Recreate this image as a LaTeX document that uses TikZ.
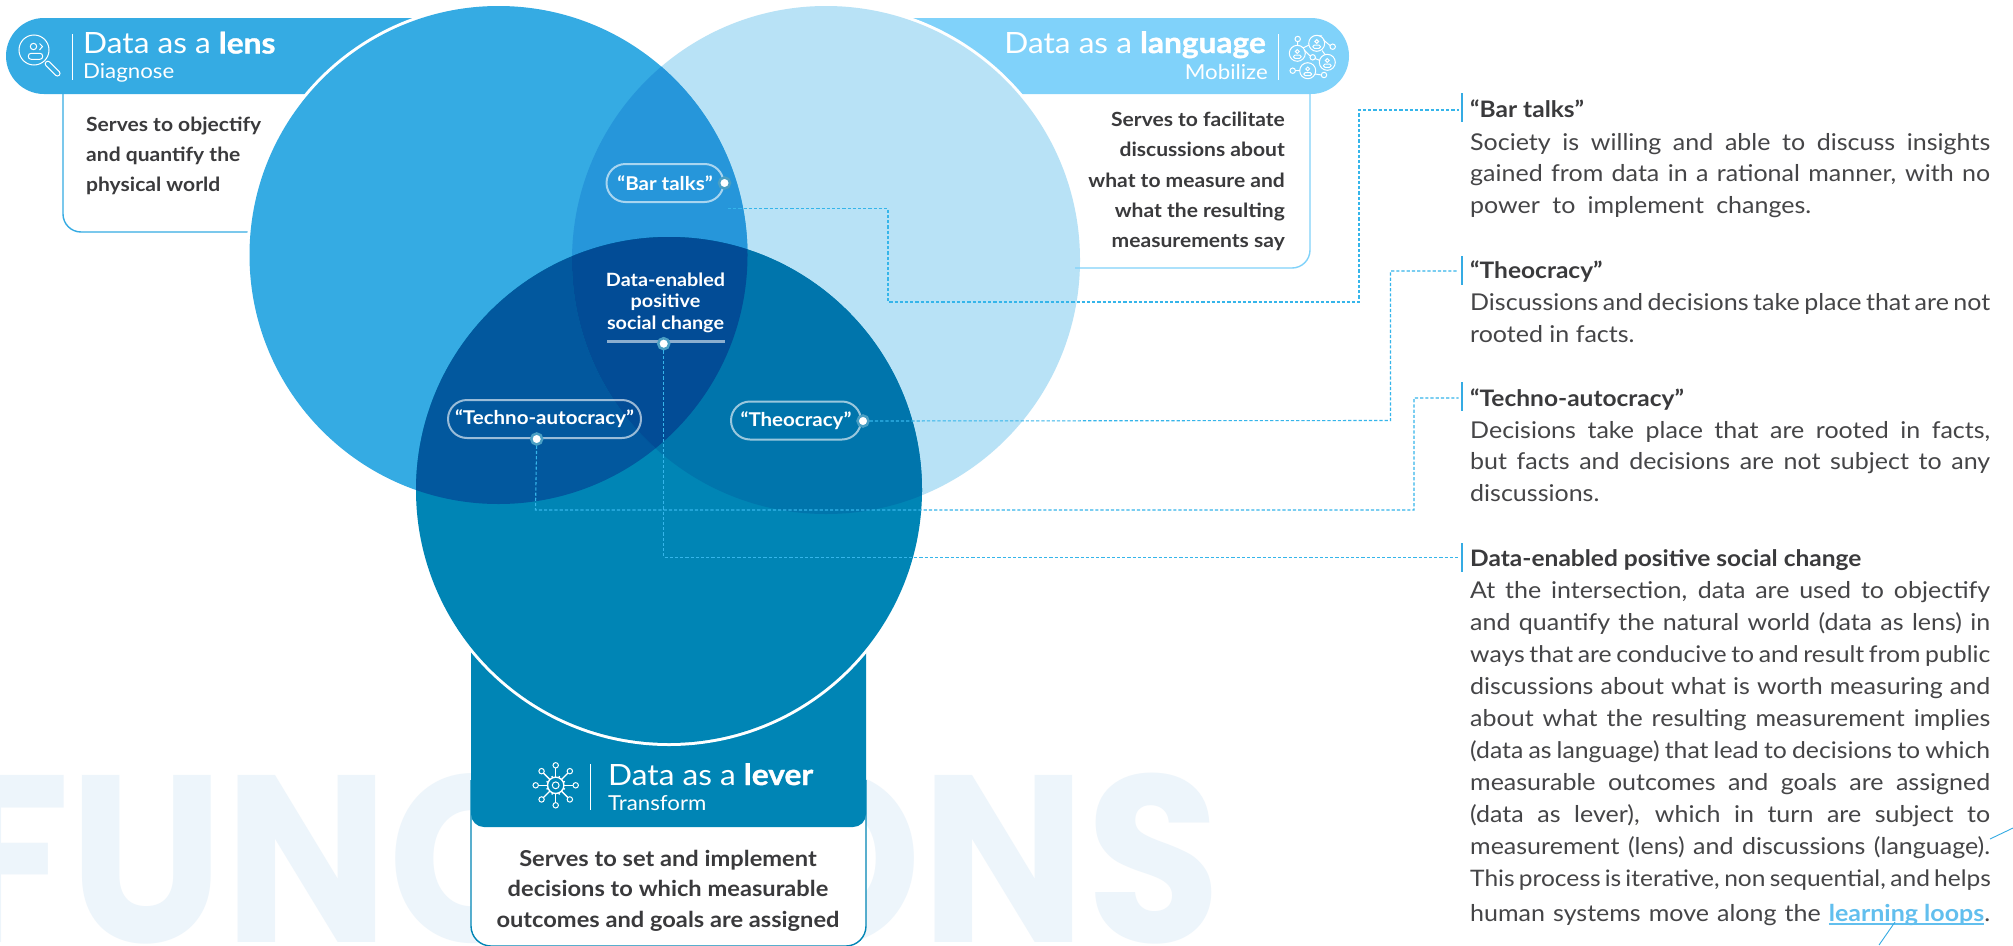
\documentclass[tikz,border=0pt]{standalone}
\usepackage{fontspec}
\setmainfont[FakeStretch=1.08]{Lato}
\newcommand\heavy{\font\hvf="Lato/B:embolden=1.2;extend=1.08" at 29.3pt \hvf}
\newfontfamily\medium[FakeStretch=1.08]{Lato}
\font\ghostfont="Poppins/B" at 238pt
\usetikzlibrary{calc}
\definecolor{lens}{HTML}{35ABE3}
\definecolor{lang}{HTML}{B8E2F6}
\definecolor{langbar}{HTML}{80D2FA}
\definecolor{lever}{HTML}{0085B5}
\definecolor{lenslang}{HTML}{2696DA}
\definecolor{lenslever}{HTML}{02589E}
\definecolor{langlever}{HTML}{0075AC}
\definecolor{allthree}{HTML}{024C96}
\definecolor{ink}{HTML}{3A3A3C}
\definecolor{inkl}{HTML}{454547}
\definecolor{ghost}{HTML}{EDF5FB}
\definecolor{dashc}{HTML}{35B5EA}
\definecolor{pinc}{HTML}{4A9FC4}
\definecolor{linkc}{HTML}{62BFEE}
\newcommand\jl[2][520pt]{\hbox to #1{#2}}
\newcommand\ulink[1]{\sbox0{#1}\rlap{\rule[-3.6pt]{\wd0}{1.2pt}}\box0}
\newcommand\tight[1]{\fontsize{#1}{32}\selectfont}
\tikzset{
 x=1pt,y=-1pt,
 dashline/.style={draw=dashc,line width=1.1pt,dash pattern=on 3.2pt off 2pt},
 pill/.style={draw=white,draw opacity=.6,line width=2pt,rounded corners=19pt,text=white,font=\fontsize{19}{19}\selectfont\bfseries,minimum height=38pt,inner xsep=0pt,inner ysep=0pt},
 pin/.style={circle,fill=white,draw=pinc,line width=2.5pt,minimum size=11pt,inner sep=0pt},
 headtxt/.style={text=white,font=\fontsize{29.3}{30}\medium,inner sep=0pt},
 subtxt/.style={text=white,font=\fontsize{20.6}{22}\selectfont,inner sep=0pt},
 bodytxt/.style={text=ink,font=\fontsize{19.5}{30.2}\selectfont\bfseries,inner sep=0pt},
 bodytxtb/.style={text=ink,font=\fontsize{21.9}{30.3}\selectfont\bfseries,inner sep=0pt},
 sidehead/.style={text=ink,font=\fontsize{22.7}{24}\selectfont\bfseries,inner sep=0pt,anchor=base west},
 sidetxt/.style={text=inkl,font=\fontsize{23.15}{32}\selectfont,inner sep=0pt,anchor=base west},
 tick/.style={draw=lens,line width=2pt},
 ico/.style={draw=white,line width=1pt,fill=none},
}
\begin{document}
\begin{tikzpicture}
\useasboundingbox (0,0) rectangle (2013,945);
\fill[white] (0,0) rectangle (2013,945);
\begin{scope}
\clip (0,0) rectangle (2013,945);
\node[text=ghost,anchor=base west,inner sep=0pt] (ghostword) at (-50,942) {\scalebox{.92}[1]{\ghostfont FUNCTIONS}};
\end{scope}
% frames
\draw[lens,line width=1.4pt,rounded corners=18pt] (63,90) -- (63,232) -- (300,232);
\draw[lever,line width=1.4pt,fill=white,rounded corners=20pt] (471,780) -- (471,946) -- (866,946) -- (866,780);
% bars
\fill[lens] (44,18) -- (450,18) -- (450,94) -- (44,94) arc[start angle=90,end angle=270,radius=38] -- cycle;
\fill[langbar] (850,18) -- (1311,18) arc[start angle=-90,end angle=90,radius=38] -- (850,94) -- cycle;
\fill[lever,rounded corners=13pt] (471,600) -- (471,827) -- (866,827) -- (866,600) -- cycle;
% circles
\coordinate (lensc) at (498.5,255);
\coordinate (langc) at (826,260);
\coordinate (leverc) at (669,490);
\fill[white] (langc) circle[radius=257];
\fill[white] (lensc) circle[radius=252];
\fill[white] (leverc) circle[radius=256];
\fill[lang] (langc) circle[radius=254];
\fill[lens] (lensc) circle[radius=249];
\fill[lever] (leverc) circle[radius=253];
\begin{scope}\clip (lensc) circle[radius=249];\fill[lenslang] (langc) circle[radius=254];\fill[lenslever] (leverc) circle[radius=253];\end{scope}
\begin{scope}\clip (langc) circle[radius=254];\fill[langlever] (leverc) circle[radius=253];\end{scope}
\begin{scope}\clip (lensc) circle[radius=249];\clip (langc) circle[radius=254];\fill[allthree] (leverc) circle[radius=253];\end{scope}
\draw[langbar,line width=1.4pt,rounded corners=18pt] (1310,90) -- (1310,268) -- (1075,268);
% header text
\node[headtxt,anchor=base west] (h1) at (83,53.5) {Data as a {\heavy lens}};
\node[subtxt,anchor=base west] (s1) at (83,78) {Diagnose};
\node[headtxt,anchor=base east] (h2) at (1266,53) {Data as a {\heavy language}};
\node[subtxt,anchor=base east] (s2) at (1268,79) {Mobilize};
\node[headtxt,anchor=base west] (h3) at (608,785) {Data as a {\heavy lever}};
\node[subtxt,anchor=base west] (s3) at (608,810) {Transform};
\draw[white,line width=1pt] (72.5,34) -- (72.5,80) (1278.5,34) -- (1278.5,80) (590.5,764) -- (590.5,810);
% lens icon
\begin{scope}[ico]
\draw (34,50) circle[radius=15];
\draw (33.5,46.5) circle[radius=3.2];
\draw[rounded corners=2.8pt] (28.3,53.3) rectangle (42.7,59.3);
\draw (39.5,43.5) -- (42.5,46.5) -- (39.5,50);
\draw[rounded corners=2.4pt] (44.2,63.8) -- (47.8,60.2) -- (61,73.4) -- (57.4,77) -- cycle;
\end{scope}
% language icon
\begin{scope}[ico]
\draw (1297.7,41.7) -- (1297.5,45.3) (1319,35.8) -- (1322,36) (1323.5,40) -- (1330,45.5)
 (1322,50.5) -- (1325,54.5) (1304,50) -- (1310.2,56) (1315,58.5) -- (1320,60.5) (1295.4,70.7) -- (1299.7,70.7) (1315,74) -- (1321.5,75)
 (1303,48) -- (1309,45);
\foreach \cx/\cy in {1297.3/53.3,1316.7/43.3,1327.3/62.3,1307.7/70.7}{
 \draw (\cx,\cy) circle[radius=8];
 \draw (\cx,\cy-1.8) circle[radius=1.9];
 \draw[rounded corners=1.4pt] (\cx-3.8,\cy+1.8) rectangle (\cx+3.8,\cy+5);
}
\foreach \cx/\cy in {1297.7/39,1332.7/46.7,1312.7/57.3,1292.7/70.7,1324/75}{
 \draw (\cx,\cy) circle[radius=2.7];
}
\end{scope}
% lever icon
\begin{scope}[ico]
\draw (555.7,785.3) circle[radius=3.4];
\draw[line width=1.4pt] (555.7,785.3) circle[radius=8.2];
\foreach \a in {0,45,...,315}{
 \draw[line width=1.3pt] ($(555.7,785.3)+(\a:8.2)$) -- ($(555.7,785.3)+(\a:17.3)$);
 \draw ($(555.7,785.3)+(\a:20)$) circle[radius=2.7];
}
\foreach \a in {22.5,67.5,...,337.5}{
 \draw[line width=1.3pt] ($(555.7,785.3)+(\a:8.2)$) -- ($(555.7,785.3)+(\a:10)$);
}
\end{scope}
% body text
\node[bodytxt,anchor=north west,align=left] (b1) at (86,116.5) {Serves to objectify\\and quantify the\\physical world};
\node[bodytxt,anchor=north east,align=right] (b2) at (1285,112) {Serves to facilitate\\discussions about\\what to measure and\\what the resulting\\measurements say};
\node[bodytxtb,anchor=north,align=center] (b3) at (668,850) {Serves to set and implement\\decisions to which measurable\\outcomes and goals are assigned};
% pills
\node[pill,minimum width=117pt] (bar) at (665,183) {“Bar talks”};
\node[pill,minimum width=193pt] (techno) at (544.5,419) {“Techno-autocracy”};
\node[pill,minimum width=130pt] (theo) at (796,420.5) {“Theocracy”};
\node[text=white,font=\fontsize{18.3}{21.5}\selectfont\bfseries,align=center,inner sep=0pt,anchor=north] (core) at (665.5,272.5) {Data-enabled\\positive\\social change};
\draw[white,draw opacity=.55,line width=2.5pt] (607,341.5) -- (725,341.5);
% side text
\node[sidehead] (t1) at (1470,117.7) {“Bar talks”};
\node[sidetxt] (p1) at (1470,150) {\vtop{\baselineskip=31.7pt
 \jl{Society is willing and able to discuss insights}
 \jl{gained from data in a rational manner, with no}
 \jl[341pt]{power to implement changes.}}};
\node[sidehead] (t2) at (1470,278) {“Theocracy”};
\node[sidetxt] (p2) at (1470,310) {\vtop{\baselineskip=32pt
 \jl{Discussions and decisions take place that are not}
 \hbox{rooted in facts.}}};
\node[sidehead] (t3) at (1470,406) {“Techno-autocracy”};
\node[sidetxt] (p3) at (1470,438) {\vtop{\baselineskip=31.8pt
 \jl{Decisions take place that are rooted in facts,}
 \jl{but facts and decisions are not subject to any}
 \hbox{discussions.}}};
\node[sidehead] (t4) at (1470,566) {Data-enabled positive social change};
\node[sidetxt] (p4) at (1470,598) {\vtop{\baselineskip=32.1pt
 \jl{At the intersection, data are used to objectify}
 \jl{and quantify the natural world (data as lens) in}
 \jl{\tight{22.95}ways that are conducive to and result from public}
 \jl{discussions about what is worth measuring and}
 \jl{about what the resulting measurement implies}
 \jl{\tight{22.95}(data as language) that lead to decisions to which}
 \jl{measurable outcomes and goals are assigned}
 \jl{(data as lever), which in turn are subject to}
 \jl{measurement (lens) and discussions (language).}
 \jl{\tight{22.7}This process is iterative, non sequential, and helps}
 \vskip2pt
 \jl{human systems move along the \textcolor{linkc}{\bfseries\ulink{learning loops}}.}}};
% ticks
\coordinate (k1) at (1461.5,110); \coordinate (k2) at (1461.5,271); \coordinate (k3) at (1461.5,398); \coordinate (k4) at (1461.5,557.5);
\draw[tick] (1461.5,93) -- (1461.5,122) (1461.5,256) -- (1461.5,285) (1461.5,382) -- (1461.5,411) (1461.5,543) -- (1461.5,572);
% pins
\node[pin] (pbar) at (724.5,183) {};
\node[pin] (ptheo) at (863,421) {};
\node[pin] (ptech) at (536.7,439) {};
\node[pin] (pcore) at (663.7,343.7) {};
% connectors
\coordinate (barstart) at (728,208.5);
\draw[dashline] (barstart) -- (888,208.5) -- (888,302) -- (1359,302) -- (1359,110) -- ($(k1)+(-3,0)$);
\draw[dashline] (ptheo) -- (1390.5,420.5) -- (1390.5,271) -- ($(k2)+(-3,0)$);
\draw[dashline] (ptech) -- (535.5,510) -- (1414,510) -- (1414,398) -- ($(k3)+(-3,0)$);
\draw[dashline] (pcore) -- (663.7,557.5) -- ($(k4)+(-3,0)$);
% decoration lines
\coordinate (d1) at (1990,839); \coordinate (d2) at (2013,828);
\coordinate (d3) at (1895,922); \coordinate (d4) at (1879,945);
\draw[lens,line width=.9pt] (d1) -- (d2);
\draw[lens,line width=.9pt] (d3) -- (d4);
\end{tikzpicture}
\end{document}
